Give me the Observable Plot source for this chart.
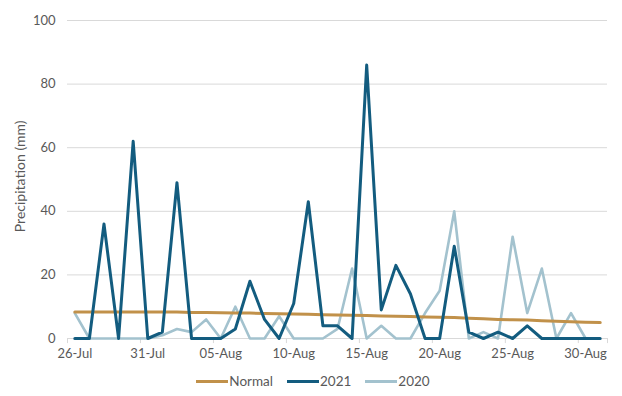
<!DOCTYPE html>
<html>
<head>
<meta charset="utf-8">
<script src="https://cdn.jsdelivr.net/npm/d3@7"></script>
<script src="https://cdn.jsdelivr.net/npm/@observablehq/plot@0.6"></script>
<style>
  html, body { margin: 0; padding: 0; background: #fff; }
  body { width: 622px; height: 396px; overflow: hidden; font-family: Lato, "Open Sans", sans-serif; }
  #legend { display: flex; justify-content: center; align-items: center; gap: 14px; font-size: 13.5px; color: #595959; margin-top: 7px; padding-left: 4px; }
  #legend .item { display: flex; align-items: center; }
  #legend .sw { width: 32px; height: 3px; margin-right: 1px; }
</style>
</head>
<body>
<div id="chart"></div>
<div id="legend"></div>
<script>
const days = [
  "2021-07-26","2021-07-27","2021-07-28","2021-07-29","2021-07-30","2021-07-31",
  "2021-08-01","2021-08-02","2021-08-03","2021-08-04","2021-08-05","2021-08-06","2021-08-07",
  "2021-08-08","2021-08-09","2021-08-10","2021-08-11","2021-08-12","2021-08-13","2021-08-14",
  "2021-08-15","2021-08-16","2021-08-17","2021-08-18","2021-08-19","2021-08-20","2021-08-21",
  "2021-08-22","2021-08-23","2021-08-24","2021-08-25","2021-08-26","2021-08-27","2021-08-28",
  "2021-08-29","2021-08-30","2021-08-31"
];
const normal = [8.3,8.3,8.3,8.3,8.3,8.3,8.3,8.3,8.2,8.2,8.1,8.0,8.0,7.9,7.8,7.7,7.6,7.5,7.4,7.3,
  7.2,7.1,7.0,6.9,6.8,6.7,6.6,6.4,6.2,6.0,5.9,5.8,5.6,5.4,5.3,5.1,5.0];
const y2021 = [0,0,36,0,62,0,2,49,0,0,0,3,18,6,0,11,43,4,4,0,86,9,23,14,0,0,29,2,0,2,0,4,0,0,0,0,0];
const y2020 = [8,0,0,0,0,0,1,3,2,6,0,10,0,0,7,0,0,0,3,22,0,4,0,0,8,15,40,0,2,0,32,8,22,0,8,0,null];
const xTickLabels = ["2021-07-26","2021-07-31","2021-08-05","2021-08-10","2021-08-15","2021-08-20","2021-08-25","2021-08-30"];
const yTicks = [0,20,40,60,80,100];
const yTitle = "Precipitation (mm)";
const seriesNames = ["Normal","2021","2020"];
const seriesColors = ["#C1914A","#135C7F","#A3C2CE"];

const parse = d3.utcParse("%Y-%m-%d");
const dates = days.map(parse);
const half = 12 * 3600 * 1000;
const rows = (vals, name) => vals.map((v, i) => ({date: dates[i], value: v, series: name}));
const dNormal = rows(normal, "Normal");
const d2021 = rows(y2021, "2021");
const d2020 = rows(y2020, "2020");
const xTicks = xTickLabels.map(parse);
const tickMarks = [new Date(dates[0] - half), ...xTicks.slice(1).map(d => new Date(+d - half)), new Date(+dates[dates.length-1] + half)];

const chart = Plot.plot({
  width: 622,
  height: 366,
  marginLeft: 67,
  marginRight: 15,
  marginTop: 20,
  marginBottom: 28,
  style: {fontFamily: "Lato, 'Open Sans', sans-serif", fontSize: "13px", color: "#595959", background: "#fff"},
  x: {type: "utc", domain: [new Date(+dates[0] - half), new Date(+dates[dates.length-1] + half)]},
  y: {domain: [0, 100]},
  marks: [
    Plot.gridY(yTicks, {stroke: "#d9d9d9", strokeOpacity: 1, strokeWidth: 1}),
    Plot.ruleX(tickMarks, {x: d => d, y1: 0, y2: -1.6, stroke: "#d9d9d9"}),
    Plot.axisY(yTicks, {tickSize: 0, tickPadding: 12, label: null, fontSize: 13, fill: "#595959"}),
    Plot.text([yTitle], {frameAnchor: "left", y: () => 51, text: d => d, rotate: -90, dx: -47, textAnchor: "middle", lineAnchor: "middle", fontSize: 14, fill: "#595959"}),
    Plot.axisX(xTicks, {tickSize: 0, tickPadding: 10, tickFormat: d3.utcFormat("%d-%b"), label: null, fontSize: 13, fill: "#595959"}),
    Plot.line(d2020, {x: "date", y: "value", stroke: seriesColors[2], strokeWidth: 2.6, strokeLinejoin: "round"}),
    Plot.line(dNormal, {x: "date", y: "value", stroke: seriesColors[0], strokeWidth: 3, strokeLinejoin: "round"}),
    Plot.line(d2021, {x: "date", y: "value", stroke: seriesColors[1], strokeWidth: 3, strokeLinejoin: "round"})
  ]
});
document.getElementById("chart").appendChild(chart);

const legend = document.getElementById("legend");
seriesNames.forEach((name, i) => {
  const item = document.createElement("div");
  item.className = "item";
  const sw = document.createElement("span");
  sw.className = "sw";
  sw.style.background = seriesColors[i];
  const t = document.createElement("span");
  t.textContent = name;
  item.appendChild(sw);
  item.appendChild(t);
  legend.appendChild(item);
});
</script>
</body>
</html>
